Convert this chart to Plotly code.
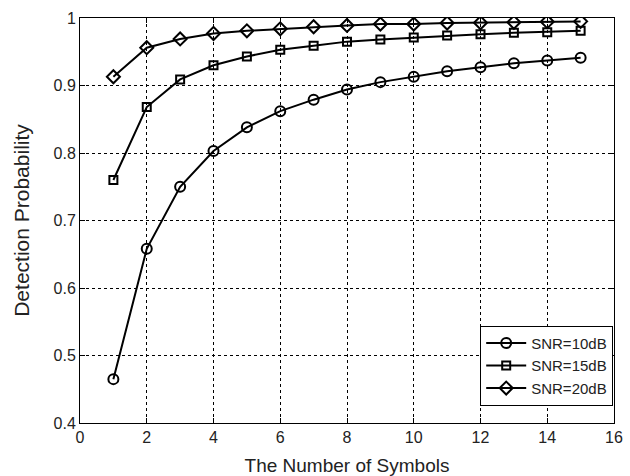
import plotly.graph_objects as go

symbols = list(range(1, 16))
snr10 = [0.465, 0.658, 0.750, 0.803, 0.838, 0.862, 0.879, 0.894, 0.905, 0.913,
         0.921, 0.927, 0.933, 0.937, 0.941]
snr15 = [0.760, 0.868, 0.909, 0.930, 0.943, 0.953, 0.959, 0.965, 0.968, 0.971,
         0.974, 0.976, 0.978, 0.979, 0.981]
snr20 = [0.913, 0.956, 0.969, 0.977, 0.981, 0.984, 0.987, 0.989, 0.991, 0.991,
         0.9926, 0.993, 0.9936, 0.9945, 0.995]

x_ticks = list(range(0, 17, 2))
y_ticks = [0.4, 0.5, 0.6, 0.7, 0.8, 0.9, 1.0]
y_labels = ["0.4", "0.5", "0.6", "0.7", "0.8", "0.9", "1"]

series = [
    ("SNR=10dB", snr10, "circle-open", 10),
    ("SNR=15dB", snr15, "square-open", 8),
    ("SNR=20dB", snr20, "diamond-open", 10),
]

fig = go.Figure()
for name, vals, sym, size in series:
    fig.add_trace(go.Scatter(
        x=symbols, y=vals, name=name, mode="lines+markers",
        line=dict(color="black", width=2),
        marker=dict(symbol=sym, size=size, color="black",
                    line=dict(color="black", width=2)),
    ))

axis_common = dict(
    showline=True, linecolor="black", linewidth=1, mirror="ticks",
    ticks="inside", ticklen=5, tickcolor="black",
    showgrid=True, gridcolor="black", gridwidth=1, griddash="dot",
    zeroline=False, tickfont=dict(size=16, color="#222"),
    automargin=False,
)

fig.update_xaxes(range=[0, 16], tickvals=x_ticks,
                 title=dict(text="The Number of Symbols", font=dict(size=19, color="#222"), standoff=14),
                 **axis_common)
fig.update_yaxes(range=[0.4, 1.0], tickvals=y_ticks, ticktext=y_labels,
                 title=dict(text="Detection Probability", font=dict(size=21, color="#222"), standoff=18),
                 **axis_common)

fig.update_layout(
    width=630, height=476,
    margin=dict(l=80, r=16, t=18, b=53),
    paper_bgcolor="white", plot_bgcolor="white",
    font=dict(family="Liberation Sans, Arial, sans-serif", color="#222"),
    legend=dict(x=0.9985, y=0.24, xanchor="right", yanchor="top",
                bgcolor="white", bordercolor="black", borderwidth=1,
                itemwidth=40,
                font=dict(size=15, color="#222"), tracegroupgap=0),
    showlegend=True,
)

fig.write_html("out.html")
